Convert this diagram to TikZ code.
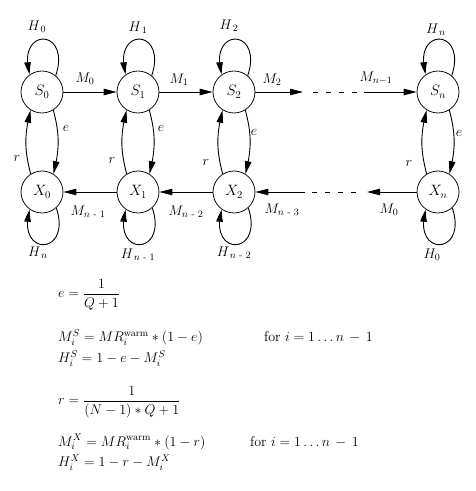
\RequirePackage{fix-cm}
\documentclass[tikz,border=0pt]{standalone}
\usepackage{amsmath}
\usetikzlibrary{arrows.meta,bending}
\begin{document}
\begin{tikzpicture}[x=1pt,y=1pt,
  state/.style={circle,draw,line width=0.75pt,minimum size=42pt,inner sep=0pt,font=\fontsize{15}{17}\selectfont},
  lbl/.style={inner sep=0pt,font=\fontsize{14}{16}\selectfont},
  eqn/.style={anchor=base west,inner sep=0pt,font=\fontsize{14}{16}\selectfont},
  arr/.style={line width=0.9pt,-{Triangle[length=13pt,width=6.5pt,bend]}},
  dsh/.style={line width=0.9pt,dash pattern=on 5pt off 8pt},
]
\useasboundingbox (0,0) rectangle (475,491);
% states
\node[state] (S0) at (42,399) {$S_0$};
\node[state] (S1) at (138,399) {$S_1$};
\node[state] (S2) at (234,399) {$S_2$};
\node[state] (Sn) at (438,399) {$S_n$};
\node[state] (X0) at (42,299) {$X_0$};
\node[state] (X1) at (138,299) {$X_1$};
\node[state] (X2) at (234,299) {$X_2$};
\node[state] (Xn) at (438,299) {$X_n$};
% top row
\draw[arr] (S0) -- (S1);
\draw[arr] (S1) -- (S2);
\coordinate (ta) at (303,399);
\coordinate (tb) at (313,399);
\coordinate (tc) at (360,399);
\coordinate (td) at (364,399);
\draw[arr] (S2) -- (ta);
\draw[dsh] (tb) -- (tc);
\draw[arr] (td) -- (Sn);
% bottom row
\draw[arr] (X1) -- (X0);
\draw[arr] (X2) -- (X1);
\coordinate (ba) at (305,299);
\coordinate (bb) at (312,299);
\coordinate (bc) at (359,299);
\coordinate (bd) at (367,299);
\draw[arr] (ba) -- (X2);
\draw[dsh] (bb) -- (bc);
\draw[arr] (Xn) -- (bd);
% vertical
\foreach \s/\x in {S0/X0,S1/X1,S2/X2,Sn/Xn}{
  \draw[arr] (\s.-58) to[bend left=15] (\x.58);
  \draw[arr] (\x.122) to[bend left=15] (\s.-122);
}
% loops
\foreach \n in {S0,S1,S2,Sn}{
  \draw[arr] (\n.50) .. controls +(16,48) and +(-14,48) .. (\n.125);
}
\foreach \n in {X0,X1,X2,Xn}{
  \draw[arr] (\n.-48) .. controls +(16,-48) and +(-14,-48) .. (\n.-125);
}
% H labels
\node[lbl] (H0t) at (37,464) {$H_{\,0}$};
\node[lbl] (H1t) at (138,463) {$H_{\,1}$};
\node[lbl] (H2t) at (229,465) {$H_{\,2}$};
\node[lbl] (Hnt) at (436,461) {$H_{\,n}$};
\node[lbl] (Hnb) at (38,238) {$H_{\,n}$};
\node[lbl] (Hn1b) at (138,236) {$H_{\,n\text{ - }1}$};
\node[lbl] (Hn2b) at (234,238) {$H_{\,n\text{ - }2}$};
\node[lbl] (H0b) at (432,236) {$H_{0}$};
% e and r labels
\node[lbl] (e0) at (66,363) {$e$};
\node[lbl] (e1) at (161,363) {$e$};
\node[lbl] (e2) at (254,359) {$e$};
\node[lbl] (en) at (459,358) {$e$};
\node[lbl] (r0) at (17,333) {$r$};
\node[lbl] (r1) at (112,331) {$r$};
\node[lbl] (r2) at (206,329) {$r$};
\node[lbl] (rn) at (409,328) {$r$};
% M labels
\node[lbl] (Mt0) at (85,412) {$M_0$};
\node[lbl] (Mt1) at (179,411) {$M_1$};
\node[lbl] (Mt2) at (272,411) {$M_2$};
\node[lbl] (Mtn) at (376,413) {$M_{n-1}$};
\node[lbl] (Mb1) at (88,279) {$M_{n\text{ - }1}$};
\node[lbl] (Mb2) at (186,279) {$M_{n\text{ - }2}$};
\node[lbl] (Mb3) at (282,281) {$M_{n\text{ - }3}$};
\node[lbl] (Mb0) at (389,281) {$M_0$};
% equations
\node[eqn] (eq1) at (58,193) {$\displaystyle e = \frac{1}{Q+1}$};
\node[eqn] (eq2) at (58,149) {$M_i^S = MR_i^{\mathrm{warm}} \ast (1-e)$};
\node[eqn] (for2) at (264,149) {for $i = 1 \ldots n\,-\,1$};
\node[eqn] (eq3) at (58,128) {$H_i^S = 1 - e - M_i^S$};
\node[eqn] (eq4) at (58,86) {$\displaystyle r = \frac{1}{(N-1) \ast Q+1}$};
\node[eqn] (eq5) at (58,45) {$M_i^X = MR_i^{\mathrm{warm}} \ast (1-r)$};
\node[eqn] (for5) at (250,45) {for $i = 1 \ldots n\,-\,1$};
\node[eqn] (eq6) at (58,24) {$H_i^X = 1 - r - M_i^X$};
\end{tikzpicture}
\end{document}
